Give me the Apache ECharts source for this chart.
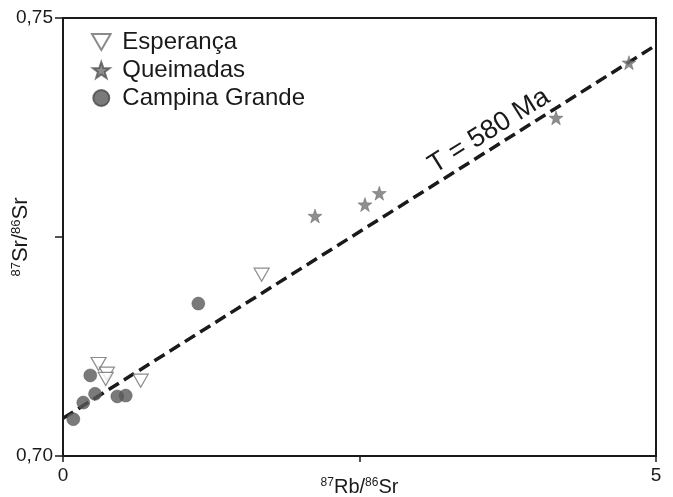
<!DOCTYPE html>
<html>
<head>
<meta charset="utf-8">
<script src="https://cdn.jsdelivr.net/npm/echarts@6/dist/echarts.min.js"></script>
<style>
  html, body { margin: 0; padding: 0; background: #fff; }
  #chart { width: 673px; height: 497px; }
</style>
</head>
<body>
<div id="chart"></div>
<script>
// Rb-Sr isochron points: [87Rb/86Sr, 87Sr/86Sr]
const esperanca = [
  [0.30, 0.7105], [0.37, 0.7094], [0.36, 0.7088], [0.655, 0.7086], [1.675, 0.7207]
];
const queimadas = [
  [2.125, 0.7274], [2.546, 0.7287], [2.667, 0.7300], [4.157, 0.7386], [4.772, 0.7449]
];
const campinaGrande = [
  [0.087, 0.7042], [0.171, 0.7061], [0.230, 0.7092], [0.270, 0.7071],
  [0.458, 0.7068], [0.529, 0.7069], [1.141, 0.7174]
];
// reference line (isochron) end points
const isochron = [[0, 0.7043], [5, 0.7469]];
const isoLabel = 'T = 580 Ma';

const starPath = 'path://M50,0L61.8,33.8L97.6,34.5L69,56.2L79.4,90.5L50,70L20.6,90.5L31,56.2L2.4,34.5L38.2,33.8Z';
const triDownPath = 'path://M0,0L100,0L50,86Z';
const font = 'Liberation Sans, Arial, sans-serif';

let myChart = echarts.init(document.getElementById('chart'));

let opt = {
  animation: false,
  backgroundColor: '#fff',
  textStyle: { fontFamily: font },
  grid: {
    left: 63, right: 17, top: 18, bottom: 41,
    outerBoundsMode: 'none',
    containLabel: false,
    show: true,
    borderColor: '#1a1a1a',
    borderWidth: 2
  },
  legend: {
    orient: 'vertical',
    left: 86,
    top: 25,
    itemWidth: 32,
    itemHeight: 16,
    itemGap: 4,
    textStyle: { fontSize: 24, color: '#1a1a1a', fontFamily: font },
    data: ['Esperança', 'Queimadas', 'Campina Grande']
  },
  xAxis: {
    type: 'value',
    min: 0, max: 5, interval: 2.5,
    splitLine: { show: false },
    axisLine: { lineStyle: { color: '#1a1a1a', width: 2 } },
    axisTick: { length: 6, lineStyle: { color: '#1a1a1a', width: 1.5 } },
    axisLabel: {
      fontSize: 19, color: '#1a1a1a', margin: 10,
      formatter: (v) => (v === 0 || v === 5) ? String(v) : ''
    },
    name: '{sup|87}Rb/{sup|86}Sr',
    nameLocation: 'middle',
    nameMoveOverlap: false,
    nameGap: 21,
    nameTextStyle: {
      fontSize: 20, color: '#1a1a1a',
      rich: { sup: { fontSize: 12, verticalAlign: 'top', lineHeight: 20, color: '#1a1a1a' } }
    }
  },
  yAxis: {
    type: 'value',
    min: 0.70, max: 0.75, interval: 0.025,
    splitLine: { show: false },
    axisLine: { lineStyle: { color: '#1a1a1a', width: 2 } },
    axisTick: { length: 8, lineStyle: { color: '#1a1a1a', width: 1.5 } },
    axisLabel: {
      fontSize: 19, color: '#1a1a1a', margin: 10,
      formatter: (v) => (Math.abs(v - 0.70) < 1e-6 || Math.abs(v - 0.75) < 1e-6) ? v.toFixed(2).replace('.', ',') : ''
    },
    name: '{sup|87}Sr/{sup|86}Sr',
    nameLocation: 'middle',
    nameRotate: 90,
    nameMoveOverlap: false,
    nameGap: 31,
    nameTextStyle: {
      fontSize: 22, color: '#1a1a1a',
      rich: { sup: { fontSize: 13, verticalAlign: 'top', lineHeight: 22, color: '#1a1a1a' } }
    }
  },
  series: [
    {
      name: 'Isochron',
      type: 'line',
      data: isochron,
      symbol: 'none',
      silent: true,
      lineStyle: { color: '#1a1a1a', width: 3.5, type: [12, 6] },
      z: 1
    },
    {
      name: 'Esperança',
      type: 'scatter',
      data: esperanca,
      symbol: triDownPath,
      symbolSize: [15, 13],
      itemStyle: { color: '#fff', borderColor: '#6e6e6e', borderWidth: 1.2 },
      z: 3
    },
    {
      name: 'Queimadas',
      type: 'scatter',
      data: queimadas,
      symbol: starPath,
      symbolSize: 14,
      itemStyle: { color: '#727272', borderColor: '#555', borderWidth: 0.5 },
      z: 3
    },
    {
      name: 'Campina Grande',
      type: 'scatter',
      data: campinaGrande,
      symbol: 'circle',
      symbolSize: 13,
      itemStyle: { color: '#595959', borderColor: '#4a4a4a', borderWidth: 0.5 },
      z: 3
    }
  ],
  graphic: [
    {
      type: 'text',
      style: { text: isoLabel, fontSize: 27, fill: '#1a1a1a', fontFamily: font, align: 'center', verticalAlign: 'middle' },
      x: 489, y: 131,
      rotation: 32 * Math.PI / 180,
      z: 5
    }
  ]
};

myChart.setOption(opt);
</script>
</body>
</html>
